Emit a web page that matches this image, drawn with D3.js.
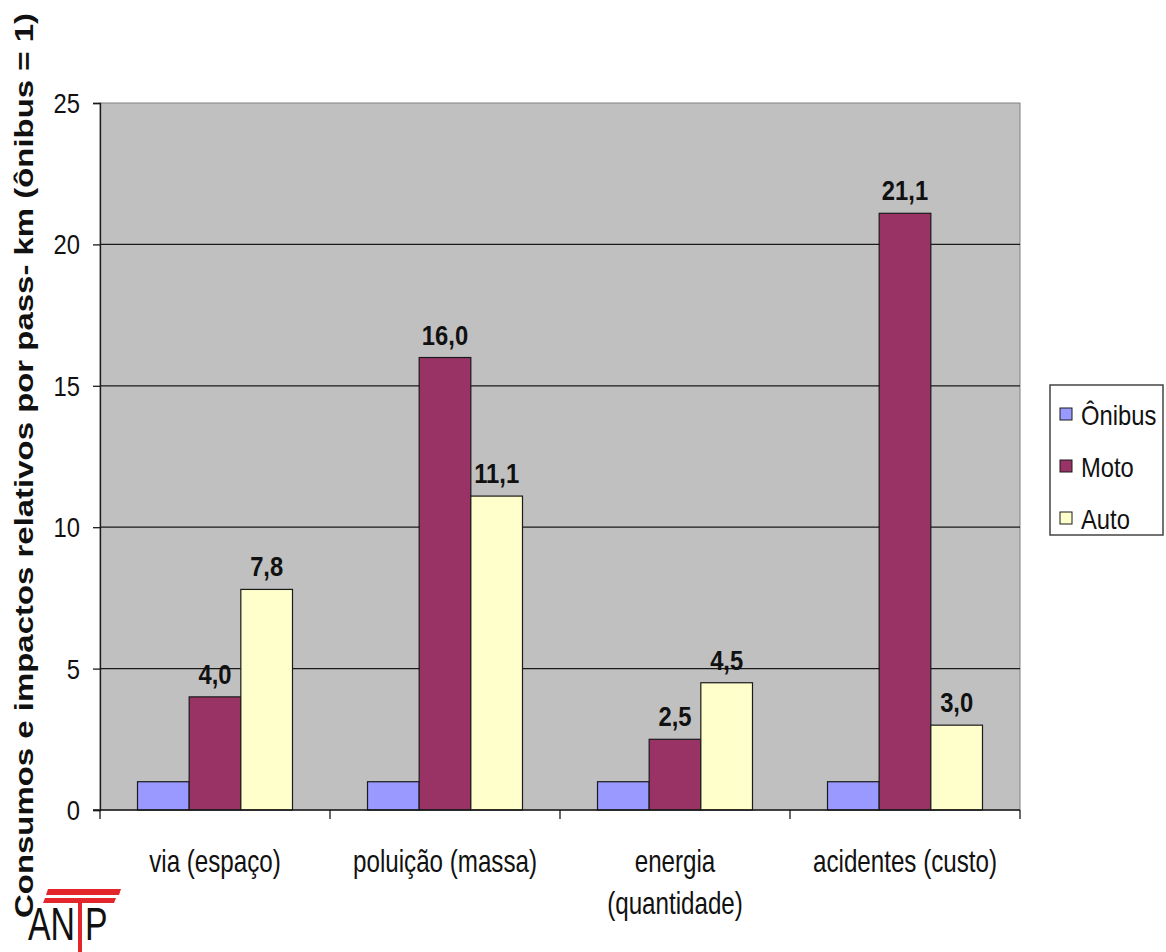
<!DOCTYPE html>
<html>
<head>
<meta charset="utf-8">
<script src="https://cdn.jsdelivr.net/npm/d3@7"></script>
<style>
  html, body { margin: 0; padding: 0; background: #fff; }
  svg { display: block; }
  text { font-family: "Liberation Sans", Arial, sans-serif; fill: #111; }
</style>
</head>
<body>
<svg id="chart" width="1166" height="952"></svg>
<script>
// Relative consumption and impacts per passenger-km (bus = 1)
const categories = [["via (espaço)"], ["poluição (massa)"], ["energia", "(quantidade)"], ["acidentes (custo)"]];
const seriesNames = ["Ônibus", "Moto", "Auto"];
const onibus = [1, 1, 1, 1];
const moto = [4.0, 16.0, 2.5, 21.1];
const auto = [7.8, 11.1, 4.5, 3.0];
const labelledSeries = ["Moto", "Auto"];
const yTicks = [0, 5, 10, 15, 20, 25];
const yTitle = "Consumos e impactos relativos por pass- km (ônibus = 1)";

const seriesValues = { "Ônibus": onibus, "Moto": moto, "Auto": auto };
const colors = { "Ônibus": "#9999FF", "Moto": "#993366", "Auto": "#FFFFCC" };

const svg = d3.select("#chart");
const plot = { left: 100, right: 1020, top: 103, bottom: 810 };

const catKeys = categories.map(c => c.join(" "));
const x0 = d3.scaleBand().domain(catKeys).range([plot.left, plot.right]).paddingInner(0).paddingOuter(0);
const x1 = d3.scaleBand().domain(seriesNames).range([0, x0.bandwidth()]).paddingInner(0).paddingOuter(0.726);
const y = d3.scaleLinear().domain([0, 25]).range([plot.bottom, plot.top]);

// text helper: horizontally condensed lettering
function label(g, txt, x, yy, opts) {
  const t = g.append("text")
    .attr("transform", `translate(${x},${yy}) scale(${opts.sx || 1},1)`)
    .attr("text-anchor", opts.anchor || "middle")
    .style("font-size", opts.size + "px")
    .style("font-weight", opts.weight || "normal")
    .text(txt);
  return t;
}

// plot area background
svg.append("rect")
  .attr("x", plot.left).attr("y", plot.top)
  .attr("width", plot.right - plot.left).attr("height", plot.bottom - plot.top)
  .attr("fill", "#C0C0C0")
  .attr("stroke", "#808080").attr("stroke-width", 1);

// horizontal gridlines
svg.append("g").selectAll("line")
  .data(yTicks.filter(d => d > 0 && d < 25))
  .join("line")
  .attr("x1", plot.left).attr("x2", plot.right)
  .attr("y1", d => y(d)).attr("y2", d => y(d))
  .attr("stroke", "#1a1a1a").attr("stroke-width", 1.3);

// bars
const groups = svg.append("g").selectAll("g")
  .data(catKeys)
  .join("g")
  .attr("transform", d => `translate(${x0(d)},0)`);

groups.selectAll("rect")
  .data((d, i) => seriesNames.map(s => ({ s, v: seriesValues[s][i] })))
  .join("rect")
  .attr("x", d => x1(d.s))
  .attr("y", d => y(d.v))
  .attr("width", x1.bandwidth())
  .attr("height", d => y(0) - y(d.v))
  .attr("fill", d => colors[d.s])
  .attr("stroke", "#1a1a1a").attr("stroke-width", 1.2);

// value labels
const fmt = v => d3.format(".1f")(v).replace(".", ",");
groups.each(function (cat, i) {
  const g = d3.select(this);
  labelledSeries.forEach(s => {
    const v = seriesValues[s][i];
    label(g, fmt(v), x1(s) + x1.bandwidth() / 2, y(v) - 13, { size: 28, sx: 0.85, weight: "bold" });
  });
});

// y axis
const yAxis = d3.axisLeft(y).tickValues(yTicks).tickSize(7).tickFormat("");
const yg = svg.append("g").attr("transform", `translate(${plot.left},0)`).call(yAxis);
yg.select(".domain").attr("stroke", "#1a1a1a").attr("stroke-width", 1.3);
yg.selectAll(".tick line").attr("stroke", "#1a1a1a").attr("stroke-width", 1.3);
yTicks.forEach(t => {
  label(svg, String(t), 80, y(t) + 10, { size: 28, sx: 0.85, anchor: "end" });
});

// x axis with ticks at category boundaries
svg.append("line")
  .attr("x1", plot.left - 7).attr("x2", plot.right)
  .attr("y1", plot.bottom).attr("y2", plot.bottom)
  .attr("stroke", "#1a1a1a").attr("stroke-width", 1.3);
const bounds = catKeys.map(c => x0(c)).concat([x0(catKeys[catKeys.length - 1]) + x0.bandwidth()]);
svg.append("g").selectAll("line")
  .data(bounds)
  .join("line")
  .attr("x1", d => d).attr("x2", d => d)
  .attr("y1", plot.bottom).attr("y2", plot.bottom + 9)
  .attr("stroke", "#1a1a1a").attr("stroke-width", 1.3);

// category labels
categories.forEach((lines, i) => {
  const cx = x0(catKeys[i]) + x0.bandwidth() / 2;
  lines.forEach((ln, j) => {
    label(svg, ln, cx, 872 + j * 42, { size: 31, sx: 0.78 });
  });
});

// y axis title
svg.append("text")
  .attr("transform", "translate(33,918) rotate(-90)")
  .attr("text-anchor", "start")
  .attr("textLength", 905)
  .attr("lengthAdjust", "spacingAndGlyphs")
  .style("font-size", "25px")
  .style("font-weight", "bold")
  .text(yTitle);

// legend
const lg = svg.append("g");
lg.append("rect")
  .attr("x", 1050).attr("y", 385).attr("width", 113).attr("height", 150)
  .attr("fill", "#fff").attr("stroke", "#444").attr("stroke-width", 1.5);
seriesNames.forEach((s, i) => {
  const yy = 414 + i * 52;
  lg.append("rect")
    .attr("x", 1060).attr("y", yy - 6).attr("width", 12).attr("height", 12)
    .attr("fill", colors[s]).attr("stroke", "#1a1a1a").attr("stroke-width", 1);
  label(lg, s, 1081, yy + 11, { size: 27, sx: 0.88, anchor: "start" });
});

// ANTP logo
const logo = svg.append("g");
logo.append("path").attr("d", "M48,889 L121,889 L119,895 L46,895 Z").attr("fill", "#e3262b");
logo.append("path").attr("d", "M45,898 L116,898 L114,903 L43,903 Z").attr("fill", "#e3262b");
logo.append("rect").attr("x", 78).attr("y", 903).attr("width", 4).attr("height", 49).attr("fill", "#e3262b");
label(logo, "AN", 28, 940, { size: 47, sx: 0.72, anchor: "start" });
label(logo, "P", 85, 940, { size: 47, sx: 0.72, anchor: "start" });
</script>
</body>
</html>
